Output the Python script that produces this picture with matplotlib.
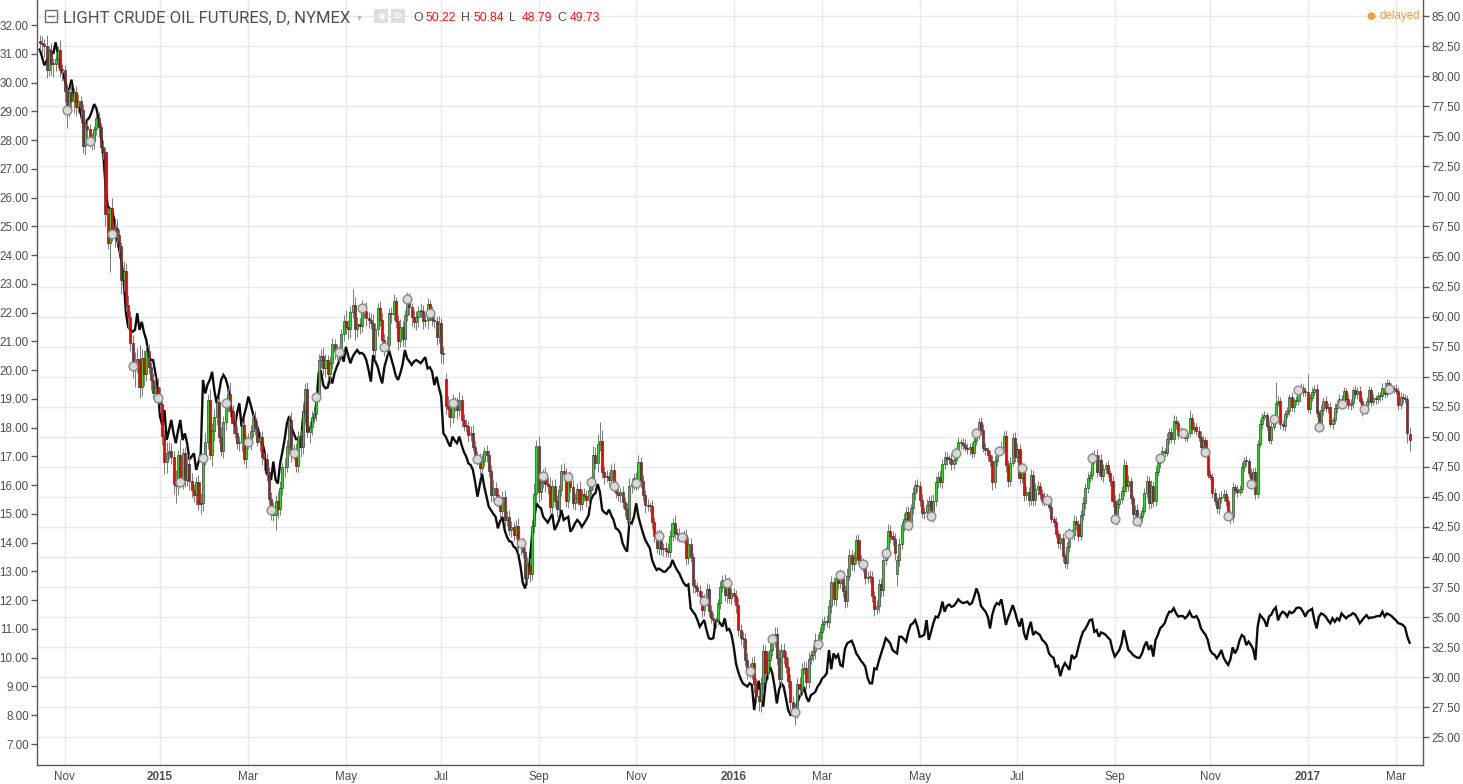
import numpy as np
import pandas as pd
import matplotlib
matplotlib.use('Agg')
import matplotlib.pyplot as plt
from matplotlib.patches import Rectangle
from matplotlib.lines import Line2D

# daily bars, NYMEX session days (exchange holidays have no bar)
first_day = '2014-10-17'
last_day = '2017-03-09'
holidays = ['2014-12-25', '2015-01-01', '2015-01-19', '2015-02-16', '2015-04-03',
            '2015-05-25', '2015-07-03', '2015-09-07', '2015-12-25', '2016-01-01',
            '2016-01-18', '2016-02-15', '2016-03-25', '2016-05-30', '2016-07-04',
            '2016-09-05', '2016-12-26', '2017-01-02', '2017-01-16', '2017-02-20']

closes = [
    82.75, 82.71, 82.49, 80.52, 82.09, 81.01, 81.00, 81.42, 82.20, 80.54, 80.54,
    78.78, 77.19, 78.68, 77.91, 78.65, 77.40, 77.94, 77.18, 74.21, 75.82, 75.64, 74.61, 74.58, 75.58, 76.51, 75.78, 74.09, 73.69, 68.50, 66.15,
    69.00, 66.88, 67.38, 66.81, 65.84, 63.05, 63.82, 60.94, 59.95, 57.81, 55.91, 55.93, 56.47, 54.11, 56.52, 55.26, 57.12, 55.84, 54.73, 53.61, 54.12, 53.27,
    52.69, 50.04, 47.93, 48.65, 48.79, 48.36, 46.07, 45.89, 48.48, 46.25, 48.69, 46.39, 47.78, 46.31, 45.59, 45.15, 46.23, 44.45, 44.53, 48.24,
    49.57, 53.05, 48.45, 50.48, 51.69, 52.86, 50.02, 48.84, 51.21, 52.78, 53.53, 52.14, 51.16, 50.34, 49.45, 49.56, 50.99, 48.17, 49.76,
    49.59, 50.52, 51.53, 50.76, 49.61, 50.00, 48.29, 48.17, 47.05, 44.84, 43.88, 43.46, 44.66, 43.96, 45.72, 47.45, 47.51, 49.21, 51.43, 48.87, 48.68, 47.60,
    50.09, 49.14, 52.14, 53.98, 50.42, 50.79, 51.64, 51.91, 53.29, 56.39, 56.71, 55.74, 56.38, 55.26, 56.16, 57.74, 57.15, 56.99, 57.06, 58.58, 59.63,
    59.15, 58.93, 60.40, 60.93, 58.94, 59.39, 59.25, 60.75, 60.50, 59.88, 59.69, 59.43, 57.26, 58.98, 60.72, 59.72, 58.03, 57.51, 57.68, 60.30,
    60.20, 61.26, 59.64, 58.00, 59.13, 58.14, 60.14, 61.43, 60.77, 59.96, 59.52, 59.97, 60.45, 60.45, 59.61, 59.68, 61.01, 60.27, 59.70, 59.63, 58.33, 59.47,
    56.96, 56.93, 52.53, 52.33, 51.65, 52.78, 52.74, 52.20, 53.04, 51.41, 50.91, 50.89, 50.15, 50.36, 49.19, 48.45, 48.14, 47.39, 47.98, 48.79, 48.52, 47.12,
    45.17, 45.74, 45.15, 44.66, 43.87, 44.96, 43.08, 43.30, 42.23, 42.50, 41.87, 42.62, 40.80, 41.14, 40.45, 38.24, 39.31, 38.60, 42.56, 45.22, 49.20,
    45.41, 46.25, 46.75, 46.05, 45.94, 44.15, 45.92, 44.63, 44.00, 45.59, 47.15, 46.90, 44.68, 46.68, 45.83, 44.48, 44.91, 45.70, 44.43, 45.23, 45.09,
    44.74, 45.54, 46.26, 48.53, 47.81, 49.43, 49.63, 47.10, 46.66, 46.64, 46.38, 47.26, 45.89, 45.29, 45.20, 45.38, 44.60, 43.98, 43.20, 45.94, 46.06, 46.59,
    46.14, 47.90, 46.32, 45.20, 44.29, 44.21, 44.21, 42.93, 41.75, 40.74, 41.74, 40.67, 40.75, 40.54, 40.39, 41.75, 42.87, 42.04, 41.90, 41.71, 41.65,
    41.85, 39.94, 41.08, 39.97, 37.65, 37.51, 37.16, 36.76, 35.62, 36.31, 37.35, 35.52, 34.95, 34.73, 34.74, 36.14, 37.50, 38.10, 36.81, 37.87, 36.60, 37.04,
    36.76, 35.97, 33.97, 33.27, 33.16, 31.41, 30.44, 30.48, 31.20, 29.42, 28.46, 28.00, 29.53, 32.19, 30.34, 31.45, 32.30, 33.22, 33.62,
    31.62, 29.88, 32.28, 31.72, 30.89, 29.69, 27.94, 27.45, 27.10, 29.44, 29.04, 30.66, 30.77, 29.64, 31.48, 31.87, 32.15, 33.07, 32.78, 33.75,
    34.40, 34.66, 34.57, 35.92, 37.90, 36.50, 38.29, 37.84, 38.50, 37.18, 36.34, 38.46, 40.20, 39.44, 39.91, 41.45, 39.79, 39.46, 39.39, 38.28, 38.32, 38.34,
    36.79, 35.70, 35.89, 37.75, 37.26, 39.72, 40.36, 42.17, 41.76, 41.50, 40.36, 39.78, 41.08, 42.63, 43.18, 43.73, 42.64, 44.04, 45.33, 46.03, 45.92,
    44.78, 43.65, 43.78, 44.32, 44.66, 43.44, 44.66, 46.23, 46.70, 46.21, 47.72, 48.31, 48.19, 48.16, 47.75, 48.08, 48.62, 49.56, 49.48, 49.33, 49.10,
    49.01, 49.17, 48.62, 49.69, 50.36, 51.23, 50.56, 49.07, 48.88, 48.49, 48.01, 46.21, 47.98, 48.76, 48.85, 49.13, 50.11, 47.64, 46.33, 47.85, 49.88, 48.33,
    48.99, 46.60, 47.43, 45.14, 45.41, 44.76, 46.80, 44.75, 45.68, 45.95, 45.24, 44.65, 44.94, 44.75, 44.19, 43.13, 42.92, 41.92, 41.14, 41.60,
    40.06, 39.51, 40.83, 41.93, 41.80, 43.02, 42.77, 41.71, 43.49, 44.49, 45.74, 46.58, 46.79, 48.22, 48.52, 47.05, 48.10, 46.77, 47.33, 47.64, 46.98, 46.35, 44.70,
    43.16, 44.44, 44.83, 45.50, 47.62, 45.88, 46.29, 44.90, 43.58, 43.91, 43.03, 43.30, 43.85, 45.34, 46.32, 44.48, 45.93, 44.67, 47.05, 47.83, 48.24,
    48.81, 48.69, 49.83, 50.44, 49.81, 51.35, 51.14, 50.18, 50.44, 50.35, 49.94, 50.29, 51.60, 50.63, 50.85, 50.52, 49.96, 49.18, 49.72, 48.70, 46.86,
    46.67, 45.34, 44.66, 44.07, 44.89, 44.98, 45.27, 44.66, 43.41, 43.32, 45.81, 45.57, 45.42, 45.69, 47.49, 48.03, 47.96, 47.00, 46.06, 47.08, 45.23, 49.44,
    51.06, 51.68, 51.79, 50.93, 49.77, 50.84, 51.50, 52.83, 52.98, 51.04, 50.90, 51.90, 52.12, 53.30, 52.49, 52.95, 53.02, 53.90, 54.06, 53.77, 53.72,
    52.33, 53.26, 53.76, 53.99, 51.96, 50.82, 52.25, 53.01, 52.37, 52.48, 51.08, 51.37, 52.42, 52.75, 53.18, 52.75, 53.78, 53.17, 52.63, 52.81,
    53.88, 53.54, 53.83, 53.01, 52.17, 52.34, 53.00, 53.86, 52.93, 53.20, 53.11, 53.36, 53.40, 54.06, 53.59, 54.45, 53.99, 54.05, 54.01,
    53.83, 52.61, 53.33, 53.20, 53.14, 50.28, 49.73,
]

opens = [
    82.90, 82.75, 82.71, 82.49, 80.52, 82.09, 81.01, 81.00, 81.42, 82.20, 80.54,
    80.54, 78.78, 77.19, 78.68, 77.91, 78.65, 77.40, 77.94, 77.18, 74.21, 75.82, 75.64, 74.61, 74.58, 75.58, 76.51, 75.78, 74.09, 73.69, 68.50,
    66.15, 69.00, 66.88, 67.38, 66.81, 65.84, 63.05, 63.82, 60.94, 59.95, 57.81, 55.91, 55.93, 56.47, 54.11, 56.52, 55.26, 57.12, 55.84, 54.73, 53.61, 54.12,
    53.27, 52.69, 50.04, 47.93, 48.65, 48.79, 48.36, 46.07, 45.89, 48.48, 46.25, 48.69, 46.39, 47.78, 46.31, 45.59, 45.15, 46.23, 44.45, 44.53,
    48.24, 49.57, 53.05, 48.45, 50.48, 51.69, 52.86, 50.02, 48.84, 51.21, 52.78, 53.53, 52.14, 51.16, 50.34, 49.45, 49.56, 50.99, 48.17,
    49.76, 49.59, 50.52, 51.53, 50.76, 49.61, 50.00, 48.29, 48.17, 47.05, 44.84, 43.88, 43.46, 44.66, 43.96, 45.72, 47.45, 47.51, 49.21, 51.43, 48.87, 48.68,
    47.60, 50.09, 49.14, 52.14, 53.98, 50.42, 50.79, 51.64, 51.91, 53.29, 56.39, 56.71, 55.74, 56.38, 55.26, 56.16, 57.74, 57.15, 56.99, 57.06, 58.58,
    59.63, 59.15, 58.93, 60.40, 60.93, 58.94, 59.39, 59.25, 60.75, 60.50, 59.88, 59.69, 59.43, 57.26, 58.98, 60.72, 59.72, 58.03, 57.51, 57.68,
    60.30, 60.20, 61.26, 59.64, 58.00, 59.13, 58.14, 60.14, 61.43, 60.77, 59.96, 59.52, 59.97, 60.45, 60.45, 59.61, 59.68, 61.01, 60.27, 59.70, 59.63, 58.33,
    59.47, 56.96, 54.80, 52.53, 52.33, 51.65, 52.78, 52.74, 52.20, 53.04, 51.41, 50.91, 50.89, 50.15, 50.36, 49.19, 48.45, 48.14, 47.39, 47.98, 48.79, 48.52,
    47.12, 45.17, 45.74, 45.15, 44.66, 43.87, 44.96, 43.08, 43.30, 42.23, 42.50, 41.87, 42.62, 40.80, 41.14, 40.45, 38.24, 39.31, 38.60, 42.56, 45.22,
    49.20, 45.41, 46.25, 46.75, 46.05, 45.94, 44.15, 45.92, 44.63, 44.00, 45.59, 47.15, 46.90, 44.68, 46.68, 45.83, 44.48, 44.91, 45.70, 44.43, 45.23,
    45.09, 44.74, 45.54, 46.26, 48.53, 47.81, 49.43, 49.63, 47.10, 46.66, 46.64, 46.38, 47.26, 45.89, 45.29, 45.20, 45.38, 44.60, 43.98, 43.20, 45.94, 46.06,
    46.59, 46.14, 47.90, 46.32, 45.20, 44.29, 44.21, 44.21, 42.93, 41.75, 40.74, 41.74, 40.67, 40.75, 40.54, 40.39, 41.75, 42.87, 42.04, 41.90, 41.71,
    41.65, 41.85, 39.94, 41.08, 39.97, 37.65, 37.51, 37.16, 36.76, 35.62, 36.31, 37.35, 35.52, 34.95, 34.73, 34.74, 36.14, 37.50, 38.10, 36.81, 37.87, 36.60,
    37.04, 36.76, 35.97, 33.97, 33.27, 33.16, 31.41, 30.44, 30.48, 31.20, 29.42, 28.46, 28.00, 29.53, 32.19, 30.34, 31.45, 32.30, 33.22,
    33.62, 31.62, 29.88, 32.28, 31.72, 30.89, 29.69, 27.94, 27.45, 27.10, 29.44, 29.04, 30.66, 30.77, 29.64, 31.48, 31.87, 32.15, 33.07, 32.78,
    33.75, 34.40, 34.66, 34.57, 35.92, 37.90, 36.50, 38.29, 37.84, 38.50, 37.18, 36.34, 38.46, 40.20, 39.44, 39.91, 41.45, 39.79, 39.46, 39.39, 38.28, 38.32,
    38.34, 36.79, 35.70, 35.89, 37.75, 37.26, 39.72, 40.36, 42.17, 41.76, 41.50, 38.60, 39.78, 41.08, 42.63, 43.18, 43.73, 42.64, 44.04, 45.33, 46.03,
    45.92, 44.78, 43.65, 43.78, 44.32, 44.66, 43.44, 44.66, 46.23, 46.70, 46.21, 47.72, 48.31, 48.19, 48.16, 47.75, 48.08, 48.62, 49.56, 49.48, 49.33,
    49.10, 49.01, 49.17, 48.62, 49.69, 50.36, 51.23, 50.56, 49.07, 48.88, 48.49, 48.01, 46.21, 47.98, 48.76, 48.85, 49.13, 50.11, 47.64, 46.33, 47.85, 49.88,
    48.33, 48.99, 46.60, 47.43, 45.14, 45.41, 44.76, 46.80, 44.75, 45.68, 45.95, 45.24, 44.65, 44.94, 44.75, 44.19, 43.13, 42.92, 41.92, 41.14,
    41.60, 40.06, 39.51, 40.83, 41.93, 41.80, 43.02, 42.77, 41.71, 43.49, 44.49, 45.74, 46.58, 46.79, 48.22, 48.52, 47.05, 48.10, 46.77, 47.33, 47.64, 46.98, 46.35,
    44.70, 43.16, 44.44, 44.83, 45.50, 47.62, 45.88, 46.29, 44.90, 43.58, 43.91, 43.03, 43.30, 43.85, 45.34, 46.32, 44.48, 45.93, 44.67, 47.05, 47.83,
    48.24, 48.81, 48.69, 49.83, 50.44, 49.81, 51.35, 51.14, 50.18, 50.44, 50.35, 49.94, 50.29, 51.60, 50.63, 50.85, 50.52, 49.96, 49.18, 49.72, 48.70,
    46.86, 46.67, 45.34, 44.66, 44.07, 44.89, 44.98, 45.27, 44.66, 43.41, 43.32, 45.81, 45.57, 45.42, 45.69, 47.49, 48.03, 47.96, 47.00, 46.06, 47.08, 45.23,
    49.44, 51.06, 51.68, 51.79, 50.93, 49.77, 50.84, 51.50, 52.83, 52.98, 51.04, 50.90, 51.90, 52.12, 53.30, 52.49, 52.95, 53.02, 53.90, 54.06, 53.77,
    53.72, 52.33, 53.26, 53.76, 53.99, 51.96, 50.82, 52.25, 53.01, 52.37, 52.48, 51.08, 51.37, 52.42, 52.75, 53.18, 52.75, 53.78, 53.17, 52.63,
    52.81, 53.88, 53.54, 53.83, 53.01, 52.17, 52.34, 53.00, 53.86, 52.93, 53.20, 53.11, 53.36, 53.40, 54.06, 53.59, 54.45, 53.99, 54.05,
    54.01, 53.83, 52.61, 53.33, 53.20, 53.14, 50.22,
]

# wick length above the body / below the body, per bar
upper_wick = [
    0.5, 0.6, 0.4, 0.9, 0.4, 0.7, 0.5, 0.4, 0.3, 0.8, 0.5,
    0.4, 0.6, 0.3, 0.7, 0.4, 0.5, 0.6, 0.4, 0.5, 0.6, 0.5, 0.4, 0.7, 0.3, 0.4, 0.5, 0.3, 0.6, 0.4, 0.5,
    0.1, 0.9, 0.6, 0.7, 0.5, 0.4, 0.8, 0.6, 0.9, 0.5, 0.7, 1.1, 0.9, 1.2, 0.8, 0.7, 0.5, 0.6, 0.4, 0.6, 0.9, 0.8,
    0.9, 0.8, 0.6, 0.9, 0.8, 0.7, 0.5, 1.2, 0.4, 1.3, 0.4, 0.5, 0.6, 0.8, 0.7, 0.5, 0.4, 0.6, 0.8, 0.3,
    0.8, 0.5, 0.9, 0.7, 0.6, 0.4, 0.6, 0.8, 0.5, 0.4, 0.5, 1.0, 0.5, 0.7, 0.6, 0.5, 0.3, 0.6, 0.4,
    0.6, 0.5, 0.4, 0.6, 0.6, 0.4, 0.5, 0.4, 0.5, 0.4, 0.6, 0.7, 0.5, 0.8, 0.6, 0.4, 0.7, 0.5, 0.4, 0.6, 0.5, 0.8,
    0.4, 0.5, 0.4, 0.5, 0.6, 0.4, 0.5, 0.4, 0.6, 0.5, 0.6, 0.8, 0.5, 0.4, 0.6, 0.5, 0.4, 0.6, 0.5, 0.4, 0.5,
    0.9, 0.6, 0.5, 1.4, 0.7, 0.6, 0.5, 0.6, 0.4, 0.7, 0.5, 0.6, 0.8, 0.5, 0.4, 0.6, 0.6, 0.5, 0.7, 0.4,
    0.5, 0.6, 0.4, 0.5, 0.7, 0.5, 0.4, 0.6, 0.5, 0.4, 0.6, 0.5, 0.4, 0.7, 0.5, 0.6, 0.5, 0.4, 0.6, 0.5, 0.4, 0.6,
    0.4, 0.6, 0.5, 0.9, 0.6, 0.8, 0.5, 0.6, 0.7, 0.4, 0.5, 0.6, 0.4, 0.5, 0.6, 0.5, 0.4, 0.5, 0.6, 0.4, 0.5, 0.4,
    0.5, 0.7, 0.5, 0.6, 0.4, 0.5, 0.6, 0.5, 0.6, 0.5, 0.4, 0.5, 0.6, 0.4, 0.5, 0.4, 0.7, 0.6, 0.5, 0.9, 0.5,
    0.9, 0.8, 0.6, 0.7, 0.6, 0.7, 0.5, 0.6, 0.5, 0.4, 0.6, 0.7, 0.5, 0.4, 0.5, 0.6, 0.4, 0.5, 0.6, 0.4, 0.5,
    0.5, 0.4, 0.5, 0.7, 0.6, 0.8, 1.6, 0.9, 0.5, 0.6, 0.4, 0.5, 0.6, 0.4, 0.5, 0.4, 0.5, 0.4, 0.5, 0.6, 0.5, 0.4,
    0.5, 0.6, 0.4, 0.5, 0.4, 0.5, 0.4, 0.5, 0.4, 0.5, 0.6, 0.5, 0.4, 0.5, 0.6, 0.5, 0.4, 0.6, 0.4, 0.5, 0.4,
    0.4, 0.5, 0.6, 0.5, 0.4, 0.5, 0.4, 0.5, 0.4, 0.6, 0.5, 0.4, 0.5, 0.4, 0.3, 0.4, 0.5, 0.4, 0.5, 0.4, 0.5, 0.4,
    0.4, 0.5, 0.6, 0.5, 0.6, 0.5, 0.6, 0.7, 0.5, 0.6, 0.5, 0.6, 0.5, 0.6, 0.5, 0.7, 0.6, 0.5, 0.6,
    0.6, 0.7, 0.5, 0.6, 0.5, 0.7, 0.6, 0.5, 0.4, 0.5, 0.6, 0.5, 0.6, 0.5, 0.6, 0.4, 0.5, 0.6, 0.5, 0.4,
    0.5, 0.4, 0.5, 0.6, 0.5, 0.4, 0.5, 0.6, 0.5, 0.4, 0.5, 0.6, 0.5, 0.4, 0.5, 0.4, 0.5, 0.4, 0.5, 0.4, 0.5, 0.6,
    0.5, 0.4, 0.5, 0.4, 0.5, 0.6, 0.5, 0.6, 0.5, 0.4, 0.5, 0.4, 0.5, 0.4, 0.5, 0.4, 0.5, 0.4, 0.5, 0.4, 0.5,
    0.4, 0.5, 0.4, 0.5, 0.4, 0.5, 0.6, 0.5, 0.4, 0.5, 0.4, 0.5, 0.4, 0.3, 0.5, 0.4, 0.5, 0.4, 0.3, 0.4, 0.5,
    0.4, 0.3, 0.4, 0.5, 0.4, 0.3, 0.4, 0.5, 0.4, 0.3, 0.4, 0.5, 0.4, 0.3, 0.4, 0.5, 0.4, 0.5, 0.4, 0.5, 0.4, 0.5,
    0.5, 0.4, 0.5, 0.4, 0.5, 0.4, 0.5, 0.4, 0.5, 0.4, 0.3, 0.4, 0.5, 0.4, 0.3, 0.4, 0.3, 0.4, 0.3, 0.4,
    0.4, 0.3, 0.4, 0.5, 0.4, 0.5, 0.4, 0.3, 0.4, 0.5, 0.4, 0.5, 0.4, 0.5, 0.4, 0.5, 0.4, 0.5, 0.4, 0.3, 0.4, 0.3, 0.4,
    0.5, 0.4, 0.5, 0.4, 0.5, 0.4, 0.5, 0.4, 0.3, 0.4, 0.5, 0.4, 0.3, 0.4, 0.5, 0.4, 0.5, 0.4, 0.5, 0.4, 0.3,
    0.4, 0.3, 0.5, 0.3, 0.4, 0.5, 0.4, 0.3, 0.4, 0.3, 0.4, 0.3, 0.6, 0.3, 0.4, 0.3, 0.4, 0.5, 0.4, 0.3, 0.4,
    0.4, 0.3, 0.4, 0.3, 0.4, 0.5, 0.4, 0.3, 0.4, 0.5, 0.4, 0.3, 0.4, 0.3, 0.4, 0.3, 0.4, 0.3, 0.4, 0.3, 0.4, 0.3,
    0.4, 0.3, 0.4, 0.3, 0.4, 0.3, 0.4, 1.7, 0.4, 0.3, 0.4, 0.3, 0.4, 0.3, 0.4, 0.3, 0.4, 0.3, 0.4, 0.3, 0.4,
    1.5, 0.3, 0.4, 0.3, 0.4, 0.3, 0.4, 0.3, 0.4, 0.3, 0.4, 0.3, 0.4, 0.3, 0.4, 0.3, 0.4, 0.3, 0.4, 0.3,
    0.3, 0.4, 0.3, 0.4, 0.3, 0.4, 0.3, 0.4, 0.3, 0.4, 0.3, 0.4, 0.3, 0.4, 0.5, 0.4, 0.3, 0.4, 0.3,
    0.4, 0.3, 0.4, 0.3, 0.4, 0.3, 0.62,
]

lower_wick = [
    0.6, 0.8, 0.9, 0.7, 0.5, 0.9, 1.1, 0.6, 0.7, 0.6, 0.9,
    0.9, 1.5, 0.6, 0.8, 1.0, 0.7, 0.5, 0.9, 0.6, 0.8, 1.2, 0.5, 0.7, 0.6, 0.5, 0.8, 0.5, 0.6, 1.0, 0.5,
    2.4, 0.6, 1.1, 0.8, 0.6, 1.2, 0.9, 0.5, 1.0, 0.7, 1.0, 1.8, 0.6, 0.9, 0.7, 1.0, 0.6, 0.6, 0.8, 0.5, 0.7, 0.5,
    0.6, 0.7, 1.0, 0.9, 0.5, 0.6, 0.8, 1.4, 0.7, 0.5, 0.6, 0.6, 0.5, 0.7, 0.7, 0.6, 0.8, 0.5, 0.9, 0.7,
    0.6, 0.6, 0.3, 0.9, 0.8, 0.7, 0.5, 0.4, 0.6, 0.6, 0.7, 0.5, 0.9, 0.4, 0.5, 0.6, 0.7, 0.4, 0.8,
    0.6, 0.7, 0.5, 0.6, 0.4, 0.8, 0.6, 0.9, 0.7, 0.5, 0.8, 0.5, 1.2, 0.7, 0.5, 0.6, 0.8, 0.4, 0.6, 1.0, 0.6, 0.5,
    0.5, 0.8, 0.6, 0.7, 0.4, 0.9, 0.6, 0.5, 0.6, 0.4, 0.7, 0.6, 0.8, 0.6, 0.9, 0.5, 0.7, 0.6, 0.8, 0.4, 0.6,
    0.6, 0.8, 0.7, 0.5, 0.9, 0.6, 0.7, 0.5, 0.6, 0.7, 0.6, 0.5, 0.4, 0.9, 0.6, 0.5, 0.7, 0.8, 0.6, 0.5,
    0.7, 0.5, 0.6, 0.8, 0.5, 0.6, 0.7, 0.5, 0.6, 0.7, 0.5, 0.6, 0.8, 0.5, 0.6, 0.5, 0.7, 0.6, 0.5, 0.6, 0.7, 0.5,
    0.8, 0.9, 0.6, 0.7, 0.8, 0.5, 0.6, 0.7, 0.5, 0.6, 0.4, 0.5, 0.6, 0.5, 0.4, 0.6, 0.5, 0.7, 0.5, 0.4, 0.6, 0.5,
    0.6, 0.5, 0.6, 0.5, 0.7, 0.4, 0.6, 0.5, 0.4, 0.6, 0.5, 0.4, 0.5, 0.6, 0.5, 0.5, 0.6, 0.7, 0.5, 0.6, 0.7,
    0.8, 0.7, 0.5, 0.6, 0.7, 0.5, 0.6, 0.5, 0.7, 0.4, 0.5, 0.6, 0.5, 0.6, 0.4, 0.5, 0.6, 0.4, 0.6, 0.5, 0.4,
    0.6, 0.5, 0.4, 0.6, 0.5, 0.7, 0.6, 0.5, 0.6, 0.4, 0.5, 0.6, 0.5, 0.4, 0.5, 0.6, 0.5, 0.6, 0.4, 0.5, 0.6, 0.5,
    0.6, 0.5, 0.6, 0.5, 0.6, 0.4, 0.5, 0.6, 0.5, 0.4, 0.6, 0.5, 0.6, 0.5, 0.4, 0.5, 0.4, 0.5, 0.6, 0.5, 0.4,
    0.5, 0.6, 0.5, 0.4, 0.6, 0.5, 0.4, 0.5, 0.6, 0.5, 0.4, 0.5, 0.4, 0.5, 0.6, 0.4, 0.5, 0.4, 0.5, 0.6, 0.4, 0.5,
    0.5, 0.6, 0.5, 0.6, 0.7, 0.5, 0.6, 0.5, 0.6, 0.7, 0.6, 0.8, 0.9, 0.6, 0.7, 0.5, 0.6, 0.5, 0.7,
    0.6, 0.5, 0.7, 0.6, 0.5, 0.6, 0.7, 0.6, 1.05, 0.5, 0.6, 0.5, 0.4, 0.6, 0.5, 0.4, 0.5, 0.6, 0.4, 0.5,
    0.6, 0.5, 0.4, 0.5, 0.6, 0.5, 0.6, 0.5, 0.4, 0.5, 0.6, 0.5, 0.4, 0.5, 0.6, 0.5, 0.4, 0.5, 0.6, 0.5, 0.4, 0.5,
    0.5, 0.6, 0.4, 0.5, 0.6, 0.5, 0.4, 0.5, 0.6, 0.5, 0.6, 1.0, 0.5, 0.4, 0.5, 0.6, 0.5, 0.4, 0.5, 0.6, 0.5,
    0.5, 0.4, 0.5, 0.6, 0.5, 0.4, 0.5, 0.4, 0.5, 0.4, 0.5, 0.4, 0.5, 0.4, 0.5, 0.4, 0.3, 0.4, 0.5, 0.4, 0.3,
    0.4, 0.5, 0.4, 0.3, 0.4, 0.5, 0.4, 0.3, 0.4, 0.5, 0.4, 0.6, 0.5, 0.4, 0.3, 0.4, 0.5, 0.6, 0.5, 0.4, 0.3, 0.4,
    0.4, 0.5, 0.4, 0.5, 0.4, 0.5, 0.4, 0.5, 0.4, 0.5, 0.4, 0.3, 0.4, 0.3, 0.4, 0.3, 0.4, 0.3, 0.4, 0.5,
    0.5, 0.4, 0.5, 0.4, 0.3, 0.4, 0.5, 0.4, 0.3, 0.4, 0.5, 0.4, 0.3, 0.4, 0.5, 0.4, 0.3, 0.4, 0.5, 0.4, 0.3, 0.4, 0.5,
    0.4, 0.5, 0.4, 0.3, 0.4, 0.5, 0.4, 0.5, 0.4, 0.3, 0.4, 0.5, 0.4, 0.3, 0.4, 0.5, 0.4, 0.5, 0.4, 0.3, 0.4,
    0.3, 0.4, 0.3, 0.4, 0.3, 0.4, 0.5, 0.4, 0.3, 0.4, 0.3, 0.4, 0.3, 0.4, 0.3, 0.4, 0.3, 0.4, 0.3, 0.4, 0.3,
    0.3, 0.4, 0.3, 0.4, 0.5, 0.4, 0.3, 0.4, 0.3, 0.6, 0.4, 0.3, 0.4, 0.3, 0.4, 0.3, 0.4, 0.3, 0.4, 0.3, 0.4, 0.3,
    0.3, 0.4, 0.3, 0.4, 0.3, 0.4, 0.3, 0.4, 0.3, 0.4, 0.3, 0.4, 0.3, 0.4, 0.3, 0.4, 0.3, 0.4, 0.3, 0.4, 0.3,
    0.3, 0.4, 0.3, 0.4, 0.3, 0.4, 0.3, 0.4, 0.3, 0.4, 0.3, 0.4, 0.3, 0.4, 0.3, 0.4, 0.3, 0.4, 0.3, 0.4,
    0.4, 0.3, 0.4, 0.3, 0.4, 0.3, 0.4, 0.3, 0.4, 0.3, 0.4, 0.3, 0.4, 0.3, 0.4, 0.3, 0.4, 0.3, 0.4,
    0.3, 0.4, 0.3, 0.4, 0.3, 0.8, 0.94,
]

# comparison symbol, left scale
compare_line = [
    31.15, 30.9, 30.6, 30.75, 30.95, 31.1, 31.0, 31.4, 31.0, 30.55, 30.35,
    30.1, 29.8, 29.75, 30.1, 29.6, 29.4, 29.2, 28.95, 28.6, 28.5, 28.7, 28.8, 29.0, 29.25, 29.1, 28.7, 28.2, 27.55, 26.4, 25.7,
    25.6, 25.5, 25.2, 24.6, 24.2, 23.8, 23.15, 22.0, 21.5, 21.4, 21.34, 21.4, 21.98, 21.4, 21.68, 21.3, 21.05, 20.5, 20.35, 20.35, 19.9, 19.4,
    18.4, 18.1, 18.61, 17.57, 17.9, 18.27, 17.8, 17.46, 17.9, 18.27, 17.57, 17.8, 17.46, 16.89, 17.0, 17.11, 16.53, 16.8, 17.11, 19.66,
    19.19, 19.5, 19.66, 19.94, 19.3, 18.85, 19.2, 19.66, 19.83, 19.7, 19.42, 18.9, 18.38, 18.03, 18.5, 18.85, 18.03, 18.4, 18.7,
    19.08, 18.8, 18.5, 18.2, 18.03, 17.7, 17.5, 17.22, 16.41, 16.3, 16.18, 16.82, 16.18, 16.06, 16.76, 17.16, 17.6, 18.15, 18.4, 18.0, 17.8, 17.6,
    17.6, 17.3, 18.3, 18.9, 17.9, 17.9, 18.2, 18.3, 18.9, 19.9, 19.95, 19.48, 19.37, 19.4, 19.77, 19.54, 19.9, 20.12, 20.3, 20.58, 20.29,
    20.81, 20.5, 20.24, 20.47, 20.6, 20.7, 20.58, 20.6, 20.53, 20.35, 20.0, 19.6, 20.53, 20.3, 20.12, 19.8, 19.54, 20.12, 20.4, 20.7,
    20.4, 20.12, 19.8, 19.66, 19.89, 20.2, 20.7, 20.41, 20.3, 20.18, 20.3, 20.35, 20.3, 20.24, 20.35, 20.45, 20.06, 20.1, 19.95, 19.48, 19.77, 19.4,
    19.08, 17.8, 17.69, 17.5, 17.34, 17.69, 17.55, 17.46, 17.69, 17.4, 17.16, 17.0, 16.76, 16.7, 16.53, 16.1, 15.6, 16.0, 16.41, 15.95, 15.6, 15.25,
    15.13, 15.0, 14.9, 14.5, 14.75, 14.9, 14.44, 14.2, 14.05, 14.03, 13.86, 13.8, 13.6, 13.17, 12.6, 12.41, 12.82, 13.3, 14.2, 14.79, 15.37,
    15.25, 15.2, 14.9, 14.8, 14.7, 14.85, 15.0, 14.44, 14.6, 14.79, 15.14, 14.79, 14.85, 14.9, 14.38, 14.5, 14.67, 14.79, 14.7, 14.55, 14.67,
    14.8, 14.95, 15.48, 15.65, 15.72, 16.04, 15.76, 15.14, 15.05, 15.0, 15.15, 14.95, 14.79, 14.5, 14.45, 14.33, 13.98, 13.8, 13.69, 14.73, 14.67, 14.9,
    15.37, 14.9, 14.6, 14.33, 14.09, 13.95, 13.81, 13.4, 13.2, 13.05, 13.1, 13.05, 12.99, 13.0, 13.1, 13.17, 13.4, 13.2, 13.05, 12.93, 12.75,
    12.59, 12.5, 12.55, 11.72, 11.6, 11.5, 11.31, 11.08, 11.2, 11.31, 10.96, 10.68, 10.65, 10.68, 11.25, 11.3, 11.2, 11.08, 11.37, 10.96, 11.0, 10.8,
    10.38, 9.8, 9.5, 9.28, 9.11, 9.05, 9.0, 9.11, 9.05, 8.18, 8.76, 9.2, 8.6, 8.3, 9.1, 9.4, 9.69, 9.46, 9.0,
    8.41, 8.9, 9.11, 9.0, 8.6, 8.18, 8.01, 8.05, 8.01, 8.41, 8.64, 8.76, 8.99, 8.64, 8.47, 8.7, 8.75, 8.82, 9.0, 9.11,
    9.28, 9.35, 9.46, 10.27, 9.6, 10.15, 10.0, 10.1, 9.75, 9.7, 10.3, 10.5, 10.55, 10.59, 10.4, 10.15, 10.04, 9.9, 9.81, 9.69, 9.3, 9.11,
    9.11, 9.63, 9.6, 9.9, 10.15, 10.4, 10.68, 10.6, 10.5, 10.27, 10.2, 10.15, 10.73, 10.73, 10.65, 10.56, 10.9, 11.14, 11.2, 11.31, 11.08,
    10.73, 10.75, 10.8, 11.31, 10.62, 10.9, 11.2, 11.43, 11.4, 11.6, 11.95, 11.6, 11.8, 11.85, 11.77, 11.8, 11.9, 12.03, 11.95, 11.9, 11.92,
    11.95, 11.85, 11.9, 12.12, 12.41, 12.2, 11.8, 11.7, 11.6, 11.43, 11.02, 11.5, 11.77, 11.9, 11.85, 12.03, 11.6, 11.14, 11.4, 11.6, 11.83, 11.6,
    11.3, 11.08, 11.37, 10.85, 10.62, 11.0, 11.25, 10.79, 10.9, 10.85, 10.79, 10.62, 10.55, 10.44, 10.15, 10.05, 10.0, 9.69, 9.72, 9.36,
    9.65, 9.81, 9.7, 9.58, 10.1, 9.98, 10.05, 10.38, 10.67, 10.9, 11.0, 11.15, 11.31, 11.33, 10.9, 10.96, 10.73, 10.88, 10.85, 10.79, 10.7, 10.62, 10.27,
    10.04, 10.15, 10.27, 10.5, 10.96, 10.62, 10.27, 10.2, 10.1, 10.04, 10.0, 10.0, 10.15, 10.4, 10.56, 10.27, 10.44, 10.04, 10.62, 10.79, 11.02,
    11.1, 11.2, 11.43, 11.6, 11.6, 11.72, 11.55, 11.43, 11.45, 11.45, 11.37, 11.45, 11.6, 11.43, 11.4, 11.45, 11.3, 11.02, 10.9, 10.8, 10.62,
    10.27, 10.15, 10.1, 9.98, 10.1, 10.27, 10.0, 9.86, 9.75, 9.95, 10.36, 10.15, 10.3, 10.6, 10.79, 10.73, 10.44, 10.56, 10.45, 10.3, 9.92, 11.08,
    11.49, 11.4, 11.3, 11.08, 11.43, 11.5, 11.66, 11.75, 11.3, 11.5, 11.6, 11.55, 11.43, 11.6, 11.55, 11.6, 11.72, 11.75, 11.72, 11.6, 11.43,
    11.6, 11.65, 11.7, 11.3, 11.02, 11.43, 11.54, 11.5, 11.43, 11.3, 11.2, 11.37, 11.25, 11.37, 11.3, 11.54, 11.45, 11.37, 11.45, 11.48,
    11.55, 11.5, 11.37, 11.2, 11.3, 11.4, 11.48, 11.37, 11.4, 11.4, 11.43, 11.45, 11.45, 11.6, 11.43, 11.54, 11.5, 11.45, 11.37,
    11.3, 11.2, 11.18, 11.14, 11.05, 10.73, 10.52,
]

# bars carrying the grey event dots
marker_bars = [12, 22, 32, 41, 52, 62, 72, 82, 92, 102, 112, 122, 132, 142, 152, 162, 172, 182,
               193, 202, 212, 222, 233, 243, 253, 263, 273, 283, 293, 303, 313, 323, 333, 343,
               353, 363, 373, 383, 393, 404, 413, 423, 433, 444, 454, 464, 474, 484, 494, 504,
               514, 524, 534, 544, 555, 564, 574, 584, 595]

title = 'LIGHT CRUDE OIL FUTURES, D, NYMEX'
header_ohlc = [('O', '50.22'), ('H', '50.84'), ('L', '48.79'), ('C', '49.73')]
labelled_months = [1, 3, 5, 7, 9, 11]
price_ticks = np.arange(25, 85.1, 2.5)
compare_ticks = np.arange(7, 32.1, 1.0)

W, H = 1463, 784
plt.rcParams['font.family'] = ['Liberation Sans', 'DejaVu Sans']
TXT = '#4d4d4d'
GRID = '#e9e9e9'
SPINE = '#5a5a5a'

days = pd.bdate_range(first_day, last_day)
days = days[~days.isin(pd.to_datetime(holidays))]
n = min(len(days), len(closes), len(opens), len(upper_wick), len(lower_wick), len(compare_line))
days = days[:n]
xs = np.arange(n)
o = np.array(opens[:n])
c = np.array(closes[:n])
hi = np.maximum(o, c) + np.array(upper_wick[:n])
lo = np.minimum(o, c) - np.array(lower_wick[:n])

tick_pos, tick_lab = [], []
for i in range(1, n):
    d = days[i]
    if d.month != days[i - 1].month and d.month in labelled_months:
        tick_pos.append(i)
        tick_lab.append(str(d.year) if d.month == 1 else d.strftime('%b'))

fig = plt.figure(figsize=(W / 100, H / 100), dpi=100)
ax = fig.add_axes([37 / W, 19 / H, 1386 / W, 765 / H])
ax_cmp = ax.twinx()
ax_px = ax.twinx()

for a in (ax, ax_cmp, ax_px):
    a.set_xlim(-1.2, 609.9)
ax.set_ylim(22.70, 86.34)
ax_px.set_ylim(22.70, 86.34)
ax_cmp.set_ylim(6.27, 32.87)

# base layer: grid + price scale on the right
ax.yaxis.tick_right()
ax.set_yticks(price_ticks)
ax.set_yticklabels(['%.2f' % v for v in price_ticks])
ax.set_xticks(tick_pos)
ax.set_xticklabels(tick_lab)
for lab in ax.get_xticklabels():
    if lab.get_text().isdigit():
        lab.set_fontweight('bold')
ax.grid(True, color=GRID, lw=1.0)
ax.set_axisbelow(True)
ax.tick_params(axis='y', direction='out', length=4, width=1, color=SPINE,
               labelsize=8.4, labelcolor=TXT, pad=2)
ax.tick_params(axis='x', length=0, labelsize=8.4, labelcolor=TXT, pad=4)
ax.spines['top'].set_visible(False)
for s in ('left', 'right', 'bottom'):
    ax.spines[s].set_color(SPINE)
    ax.spines[s].set_linewidth(1.0)

# comparison line, left scale
ax_cmp.yaxis.tick_left()
ax_cmp.set_yticks(compare_ticks)
ax_cmp.set_yticklabels(['%.2f' % v for v in compare_ticks])
ax_cmp.tick_params(axis='y', direction='out', length=4, width=1, color=SPINE,
                   labelsize=8.4, labelcolor=TXT, pad=2)
for s in ax_cmp.spines.values():
    s.set_visible(False)
ax_cmp.plot(xs, compare_line[:n], color='#0d0d0d', lw=1.7, solid_joinstyle='miter')

# candles on top
ax_px.set_yticks([])
for s in ax_px.spines.values():
    s.set_visible(False)
body_col = np.where(c >= o, '#1fe01f', '#f00000')
ax_px.vlines(xs, lo, hi, color='#7a7a7a', lw=0.7, zorder=1)
ax_px.bar(xs, np.maximum(np.abs(c - o), 0.08), bottom=np.minimum(o, c), width=0.9,
          color=body_col, edgecolor='#303030', linewidth=0.45, zorder=2)
mb = [b for b in marker_bars if b < n]
ax_px.plot(mb, c[mb], ls='none', marker='o', ms=6.3, mfc='#d9d9d9', mec='#8a8a8a',
           mew=1.0, zorder=4)


def fxy(px, py):
    return px / W, 1 - py / H


# header
fig.add_artist(Rectangle(fxy(45, 22), 12 / W, 12 / H, transform=fig.transFigure,
                         fill=False, ec='#6e6e6e', lw=1.0))
fig.add_artist(Line2D([48 / W, 54 / W], [1 - 16 / H] * 2, transform=fig.transFigure,
                      color='#6e6e6e', lw=1.0))
fig.text(*fxy(63, 22.5), title, fontsize=12.0, color=TXT, va='baseline', ha='left',
         family=['Roboto', 'Liberation Sans'])
fig.text(*fxy(357, 20), '\u25be', fontsize=7, color='#b8b8b8', va='baseline', ha='left',
         family=['DejaVu Sans'])
for ix in (374, 391):
    fig.add_artist(Rectangle(fxy(ix, 23), 14 / W, 14 / H, transform=fig.transFigure,
                             fc='#dedede', ec='none'))
fig.text(*fxy(381, 16), '\u25c9', fontsize=6.5, color='white', va='center', ha='center',
         family=['DejaVu Sans'])
fig.text(*fxy(398, 16), '\u2699', fontsize=7.5, color='white', va='center', ha='center',
         family=['DejaVu Sans'])
for k, (letter, val) in enumerate(header_ohlc):
    lx = 413 + 48 * k
    fig.text(*fxy(lx, 21), letter, fontsize=8.8, color=TXT, va='baseline', ha='left')
    fig.text(*fxy(lx + 13, 21), val, fontsize=8.8, color='#ff1414', va='baseline', ha='left')
fig.text(*fxy(1366, 19.5), '\u25cf', fontsize=7.5, color='#ff9a3c', va='baseline', ha='left',
         family=['DejaVu Sans'])
fig.text(*fxy(1379, 19.5), 'delayed', fontsize=8.3, color='#ff9a3c', va='baseline', ha='left')

fig.savefig('out.png', dpi=100)
